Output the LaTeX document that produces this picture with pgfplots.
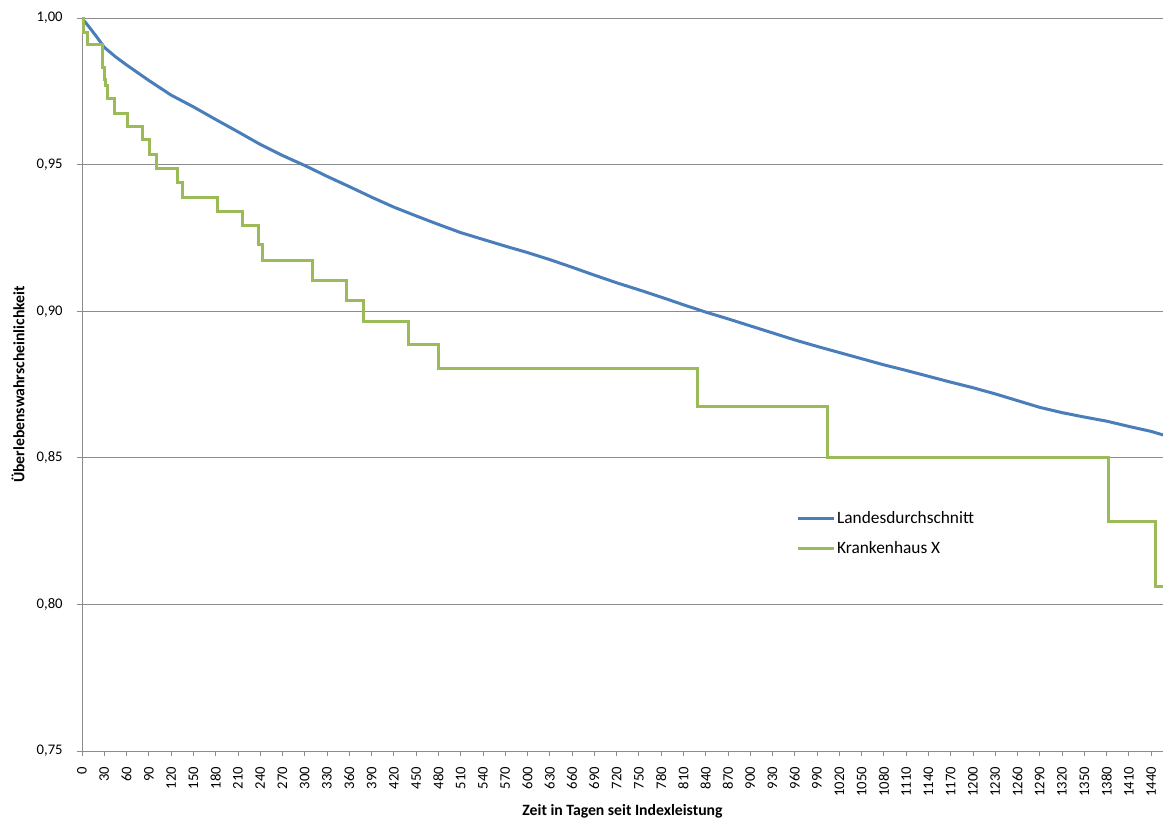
\documentclass[border=0pt]{standalone}
\usepackage{pgfplots}
\pgfplotsset{compat=1.18}
\usepackage{fontspec}
\setmainfont{Carlito}
\definecolor{exblue}{HTML}{4A7EBB}
\definecolor{exgreen}{HTML}{9BBB59}
\definecolor{gridgray}{HTML}{8C8C8C}

\pgfplotstableread{
day val
0 1.0000
10 0.9968
20 0.9935
30 0.9900
45 0.9868
60 0.9840
90 0.9787
120 0.9737
150 0.9697
180 0.9654
210 0.9612
240 0.9569
270 0.9531
300 0.9497
330 0.9460
360 0.9425
390 0.9389
420 0.9355
450 0.9325
480 0.9296
510 0.9268
540 0.9245
570 0.9222
600 0.9200
630 0.9176
660 0.9150
690 0.9123
720 0.9097
750 0.9073
780 0.9048
810 0.9022
840 0.8997
870 0.8974
900 0.8950
930 0.8926
960 0.8902
990 0.8880
1020 0.8859
1050 0.8838
1080 0.8817
1110 0.8798
1140 0.8778
1170 0.8758
1200 0.8739
1230 0.8718
1260 0.8695
1290 0.8672
1320 0.8654
1350 0.8639
1380 0.8625
1410 0.8607
1440 0.8590
1456 0.8578
}\landes

\pgfplotstableread{
day val
0 1.0000
2 0.9951
7 0.9911
27 0.9870
28 0.9830
30 0.9790
31 0.9771
35 0.9726
44 0.9675
61 0.9629
82 0.9584
91 0.9535
101 0.9487
128 0.9438
136 0.9388
182 0.9339
216 0.9291
238 0.9226
243 0.9172
311 0.9106
356 0.9035
379 0.8964
440 0.8887
480 0.8805
829 0.8674
1004 0.8502
1383 0.8282
1446 0.8060
1456 0.8060
}\kh

\begin{document}
\begin{tikzpicture}
\useasboundingbox (-61.5pt,-51.75pt) rectangle (812.25pt,563.25pt);
\begin{axis}[
  scale only axis, width=810.75pt, height=549.75pt,
  xmin=0, xmax=1456, ymin=0.75, ymax=1.0,
  axis x line*=bottom, axis y line*=left,
  axis line style={gridgray, line width=0.6pt, -},
  ymajorgrids, grid style={gridgray, line width=0.6pt},
  tick align=outside, major tick length=4pt,
  tick style={gridgray, line width=0.6pt},
  xtick={0,30,...,1440},
  ytick={0.75,0.80,0.85,0.90,0.95,1.00},
  /pgf/number format/assume math mode=true,
  xticklabel style={rotate=90, anchor=east, font=\fontsize{11}{13}\selectfont,
    xshift=-4.5pt, /pgf/number format/1000 sep={}},
  yticklabel style={font=\fontsize{11}{13}\selectfont, xshift=-7pt,
    /pgf/number format/.cd, fixed, fixed zerofill, precision=2, use comma},
  xlabel={\textbf{Zeit in Tagen seit Indexleistung}},
  ylabel={\textbf{Überlebenswahrscheinlichkeit}},
  xlabel style={at={(axis description cs:0.5,0)}, anchor=center, yshift=-45pt,
    font=\fontsize{11.8}{14}\selectfont},
  ylabel style={at={(axis description cs:-0.0592,0.5)}, anchor=center, rotate=0,
    font=\fontsize{11.8}{14}\selectfont},
  legend style={draw=none, fill=none, at={(axis description cs:0.661,0.3285)},
    anchor=north west, font=\fontsize{13}{15}\selectfont,
    row sep=10pt, inner sep=0pt, nodes={inner sep=1pt}},
  legend cell align=left,
  legend image code/.code={\draw[#1] (0pt,0pt) -- (27pt,0pt);},
]
\addplot[exblue, line width=2.25pt] table[x=day, y=val] {\landes};
\addlegendentry{Landesdurchschnitt}
\addplot[exgreen, line width=2.25pt, const plot] table[x=day, y=val] {\kh};
\addlegendentry{Krankenhaus X}
\end{axis}
\end{tikzpicture}
\end{document}
